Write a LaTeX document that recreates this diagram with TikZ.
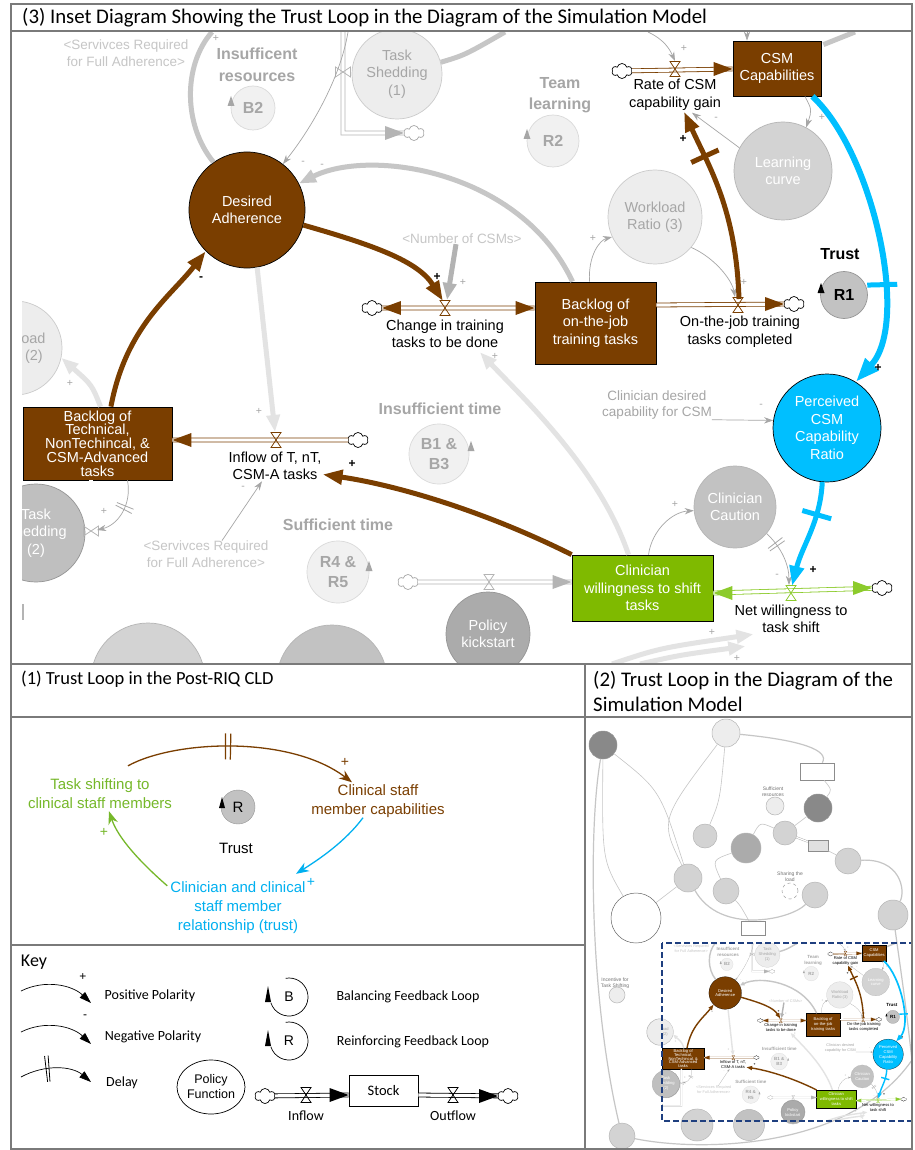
\documentclass[tikz,border=0pt]{standalone}
\usepackage{fontspec}
\setmainfont{Liberation Sans}
\newfontfamily\calib{Carlito}
\usetikzlibrary{arrows.meta,shapes.symbols,shapes.geometric,calc}

\definecolor{csmbrown}{HTML}{7A3E00}
\definecolor{trustcyan}{HTML}{00BFFF}
\definecolor{shiftgreen}{HTML}{7FBA00}
\definecolor{flowgreen}{HTML}{8CCB2C}
\definecolor{cldgreen}{HTML}{76B82A}
\definecolor{cldcyan}{HTML}{00B0F0}
\definecolor{fadegrey}{HTML}{A6A6A6}
\definecolor{palegrey}{HTML}{C6C6C6}
\definecolor{pipegrey}{HTML}{B4B4B4}
\definecolor{ghostgrey}{HTML}{E3E3E3}
\definecolor{ghostfill}{HTML}{EDEDED}
\definecolor{ghostline}{HTML}{CBCBCB}
\definecolor{midfill}{HTML}{D3D3D3}
\definecolor{midline}{HTML}{B5B5B5}
\definecolor{darkfill}{HTML}{ABABAB}
\definecolor{darkline}{HTML}{959595}
\definecolor{loopfill}{HTML}{F1F1F1}
\definecolor{loopline}{HTML}{DADADA}
\definecolor{rfill}{HTML}{C2C2C2}
\definecolor{framegrey}{HTML}{7A7A7A}
\definecolor{keynavy}{HTML}{1F3F7F}

\newcommand{\strokeu}{1}

% the inset, drawn once full size and once in the thumbnail
\newcommand{\insetbody}{%
\begin{scope}
\clip (22,32) rectangle (912,664);
% faded parts of the full model
\node[varc, fill=ghostfill, draw=ghostline, minimum size=94pt, text=fadegrey] (wl2) at (15,348) {Workload\\Ratio (2)};
\node[varc, fill=black!25, draw=darkline, minimum size=98pt, text=white] (ts2) at (36,533) {Task\\Shedding\\(2)};
\node[varc, fill=midfill, draw=midline, minimum size=114pt] (bot1) at (148,680) {};
\node[varc, fill=midfill!92!black, draw=midline, minimum size=110pt] (bot2) at (332,680) {};
\node[varc, fill=ghostfill, draw=ghostline, minimum size=90pt, text=fadegrey] (ts1) at (397,74) {Task\\Shedding\\(1)};
\node[varc, fill=midfill, draw=midline, minimum size=98pt, text=white] (learn) at (783,171) {Learning\\curve};
\node[varc, fill=ghostfill, draw=ghostline, minimum size=94pt, text=fadegrey] (wl3) at (655,217) {Workload\\Ratio (3)};
\node[varc, fill=midfill!92!black, draw=midline, minimum size=82pt, text=white] (caution) at (735,507) {Clinician\\Caution};
\node[varc, fill=darkfill, draw=darkline, minimum size=84pt, text=white] (policy) at (488,634) {Policy\\kickstart};

% loop names
\node[looplbl] (tInsRes) at (257,65) {Insufficent\\resources};
\node[loopc, minimum size=44pt] (b2) at (253,108) {B2};
\pic[fadegrey] at (231,104) {looparrow};
\node[looplbl] (tTeam) at (560,95) {Team\\learning};
\node[loopc, minimum size=52pt] (r2) at (553,141) {R2};
\pic[fadegrey] at (527,137) {looparrow};
\node[looplbl] (tInsTime) at (440,409) {Insufficient time};
\node[loopc, minimum size=60pt] (b13) at (439,454) {B1 \&\\B3};
\pic[fadegrey] at (471,449) {looparrow};
\node[looplbl] (tSufTime) at (338,525) {Sufficient time};
\node[loopc, minimum size=62pt] (r45) at (338,572) {R4 \&\\R5};
\pic[fadegrey] at (369,569) {looparrow};
\node[looplbl, text=black] (tTrust) at (840,254) {Trust};
\node[loopc, fill=rfill, draw=darkline, text=black, minimum size=47pt] (r1) at (844,295) {R1};
\pic[black] at (821,291) {looparrow};

% grey texts
\node[ghostlbl] (tSvc1) at (126,53) {<Servivces Required\\for Full Adherence>};
\node[ghostlbl] (tSvc2) at (206,554) {<Servivces Required\\for Full Adherence>};
\node[ghostlbl] (tNumCSM) at (462,239) {<Number of CSMs>};
\node[ghostlbl, text=fadegrey] (tDesCap) at (657,405) {Clinician desired\\capability for CSM};

% stocks and variables of the trust loop
\node[varc, fill=csmbrown, draw=black, minimum size=116pt, text=white] (desired) at (247,210) {Desired\\Adherence};
\node[stockbox, minimum width=149pt, minimum height=73pt, font=\fontsize{14.5}{13.7}\selectfont] (backT) at (97.5,443.5) {Backlog of\\Technical,\\NonTechincal, \&\\CSM-Advanced\\tasks};
\node[stockbox, minimum width=121pt, minimum height=82pt] (backJ) at (595.5,323) {Backlog of\\on-the-job\\training tasks};
\node[stockbox, minimum width=88pt, minimum height=55pt] (csm) at (777,68.5) {CSM\\Capabilities};
\node[varc, fill=trustcyan, draw=black, minimum size=108pt, text=white] (perc) at (827,428) {Perceived\\CSM\\Capability\\Ratio};
\node[stockbox, fill=shiftgreen, minimum width=141pt, minimum height=66pt] (clin) at (642.5,588) {Clinician\\willingness to shift\\tasks};

% flows
\coordinate (vChg) at (445,308);
\coordinate (vDone) at (738,305);
\coordinate (vRate) at (675,69);
\coordinate (vInf) at (276,440);
\coordinate (vNet) at (791,593);
\coordinate (vPol) at (489,582);
\coordinate (vTs1) at (343,72);
\coordinate (vLp) at (91,531);
\node[srccloud] (cChg) at (372,308) {};
\node[srccloud] (cDone) at (794,304) {};
\node[srccloud] (cRate) at (622,71) {};
\node[srccloud] (cInf) at (358,440) {};
\node[srccloud] (cNet) at (882,588) {};
\node[srccloud, draw=fadegrey] (cPol) at (408,582) {};
\node[srccloud, draw=fadegrey] (cTs1) at (414,133) {};
\node[flowlbl] (lChg) at (445,334) {Change in training\\tasks to be done};
\node[flowlbl] (lDone) at (740,332) {On-the-job training\\tasks completed};
\node[flowlbl] (lRate) at (675,95) {Rate of CSM\\capability gain};
\node[flowlbl] (lInf) at (275,466) {Inflow of T, nT,\\CSM-A tasks};
\node[flowlbl] (lNet) at (791,619) {Net willingness to\\task shift};

\draw[flowpipe, draw=csmbrown] (cChg) -- (vChg -| backJ.west);
\pic[csmbrown] at (vChg) {valve};
\pic[csmbrown] at (backJ.west |- vChg) {flowtip};
\pic[csmbrown, rotate=180] at (cChg.east) {flowtip};
\draw[flowpipe, draw=csmbrown] (backJ.east |- vDone) -- (cDone);
\pic[csmbrown] at (vDone) {valve};
\pic[csmbrown] at (cDone.west) {flowtip};
\draw[flowpipe, draw=csmbrown] (cRate) -- (csm.west |- vRate);
\pic[csmbrown] at (vRate) {valve};
\pic[csmbrown] at (csm.west |- vRate) {flowtip};
\draw[flowpipe, draw=csmbrown] (cInf) -- (backT.east |- vInf);
\pic[csmbrown] at (vInf) {valve};
\pic[csmbrown, rotate=180] at (backT.east |- vInf) {flowtip};
\draw[flowpipe, draw=flowgreen] (clin.east |- vNet) -- (cNet);
\pic[flowgreen] at (vNet) {valve};
\pic[flowgreen, rotate=180] at (clin.east |- vNet) {flowtip};
\pic[flowgreen] at (cNet.west) {flowtip};
\draw[flowpipe, draw=pipegrey] (cPol) -- (clin.west |- vPol);
\pic[pipegrey] at (vPol) {valve};
\pic[pipegrey] at (clin.west |- vPol) {flowtip};

\coordinate (ts1Top) at (343,32);
\coordinate (ts1Corner) at (343,133);
\draw[flowpipe, draw=pipegrey] (ts1Top) -- (ts1Corner) -- (cTs1);
\pic[pipegrey, rotate=90] at (vTs1) {valve};
\pic[pipegrey] at (cTs1.west) {flowtip};
\coordinate (lpTop) at (backT.south -| vLp);
\coordinate (lpCorner) at (91,612);
\coordinate (lpEnd) at (22,612);
\draw[flowpipe, draw=pipegrey] (lpTop) -- (lpCorner) -- (lpEnd);
\pic[pipegrey, rotate=90] at (vLp) {valve};
\draw[pipegrey, line width=1.5*\strokeu pt] ($(lpEnd)+(1,-8)$) -- ($(lpEnd)+(1,8)$);

% faded links
\coordinate (gTop1) at (348,32);
\coordinate (gTop2) at (648,32);
\coordinate (gTop3) at (747,32);
\coordinate (gTop4) at (212,32);
\coordinate (gTop5) at (505,32);
\coordinate (gTop6) at (855,32);
\coordinate (gBot1) at (612,664);
\coordinate (gBot2) at (640,664);
\draw[fatline, palegrey] (desired.125) .. controls (183,125) and (183,65) .. (gTop4);
\draw[fatline, palegrey] (ts1.15) .. controls (465,55) .. (gTop5);
\draw[fatline, palegrey] ($(csm.north east)+(2,4)$) -- (gTop6);
\draw[fatlink, palegrey] ($(backJ.north)+(-23,0)$) .. controls (520,170) and (370,148) .. (desired.27);
\draw[fatlink, fadegrey!85] ($(tNumCSM.south)+(-6,0)$) -- ($(vChg)+(2,-8)$);
\draw[fatlink, ghostgrey] (desired.-80) -- ($(vInf)+(-1,-8)$);
\draw[fatlink, ghostgrey] ($(clin.north)+(-14,0)$) .. controls (600,470) and (525,400) .. ($(lChg.south)+(35,3)$);
\draw[fatlink, ghostgrey] ($(backT.north)+(3,0)$) .. controls (92,385) .. (wl2.-12);
\draw[fatlink, ghostgrey] (gBot1) .. controls (660,648) .. ($(lNet.south west)+(20,0)$);
\draw[fatlink, ghostgrey] (gBot2) .. controls (680,655) .. ($(lNet.south west)+(12,12)$);
\draw[thinlink, fadegrey] (gTop1) .. controls (340,80) and (310,130) .. (desired.52);
\draw[thinlink, fadegrey] ($(backJ.north)+(-6,0)$) .. controls (588,255) and (600,240) .. (wl3.205);
\draw[thinlink, fadegrey] (wl3.-40) .. controls (715,258) and (732,280) .. ($(vDone)+(-3,-8)$);
\draw[thinlink, fadegrey] (learn.152) -- ($(lRate.south)+(17,1)$);
\draw[thinlink, fadegrey] ($(csm.south)+(28,0)$) .. controls (812,110) .. (learn.62);
\draw[thinlink, fadegrey] (gTop2) .. controls (665,40) and (670,50) .. ($(vRate)+(0,-8)$);
\draw[thinlink, fadegrey] (gTop3) -- (csm.north -| gTop3);
\draw[thinlink, fadegrey] ($(clin.north)+(6,0)$) .. controls (652,530) and (672,512) .. (caution.185);
\draw[thinlink, fadegrey] (caution.-40) .. controls (782,548) and (789,565) .. ($(vNet)+(-2,-8)$) node[gbar, fill=fadegrey, pos=0.21] (dCau1) {} node[gbar, fill=fadegrey, pos=0.27] (dCau2) {};
\draw[thinlink, fadegrey] (tDesCap.-15) -- (perc.172);
\draw[thinlink, fadegrey] ($(tSvc2.north)+(16,0)$) -- ($(lInf.south)+(-13,0)$);
\draw[thinlink, fadegrey] ($(backT.south)+(30,0)$) .. controls (132,505) and (118,525) .. ($(vLp)+(6,-1)$) node[gbar, fill=fadegrey, pos=0.38] (dLp1) {} node[gbar, fill=fadegrey, pos=0.44] (dLp2) {};

% the trust loop links
\draw[caulink, csmbrown] (desired.-15) .. controls +(70,20) and +(-25,-40) .. ($(vChg)+(-2,-7)$);
\draw[caulink, csmbrown] (backT.70) .. controls +(15,-80) and +(-35,45) .. (desired.225);
\draw[caulink, csmbrown] (clin.north west) .. controls +(-90,-45) and +(70,10) .. (lInf.-10);
\draw[caulink, csmbrown] ($(vDone)+(1,-6)$) .. controls +(-3,-90) and +(25,55) .. ($(lRate.south)+(9,0)$) node[delaybar, fill=csmbrown, pos=0.72] (dRate) {};
\draw[caulink, trustcyan, line width=6*\strokeu pt] ($(csm.south east)+(-9,0)$) .. controls +(60,55) and +(55,-60) .. (perc.58) node[delaybar, fill=trustcyan, pos=0.64] (dPerc) {};
\draw[caulink, trustcyan] (perc.265) .. controls +(-2,40) and +(10,-40) .. ($(vNet)+(1,-7)$) node[delaybar, fill=trustcyan, pos=0.3] (dNet) {};

% polarities
\node[sgn] (sDesChg) at (437,277) {+};
\node[sgn] (sBackDes) at (201,279) {-};
\node[sgn] (sClinInf) at (352,464) {+};
\node[sgn] (sDoneRate) at (683,139) {+};
\node[sgn] (sCsmPerc) at (878,368) {+};
\node[sgn] (sPercNet) at (813,570) {+};
\node[gsgn] (g1) at (216,38) {+};
\node[gsgn] (g2) at (303,163) {-};
\node[gsgn] (g3) at (322,166) {-};
\node[gsgn] (g4) at (463,282) {+};
\node[gsgn] (g5) at (593,238) {+};
\node[gsgn] (g6) at (744,282) {+};
\node[gsgn] (g7) at (716,119) {-};
\node[gsgn] (g8) at (822,117) {+};
\node[gsgn] (g9) at (684,48) {+};
\node[gsgn] (g10) at (495,356) {+};
\node[gsgn] (g11) at (761,406) {-};
\node[gsgn] (g12) at (675,504) {+};
\node[gsgn] (g13) at (777,576) {-};
\node[gsgn] (g14) at (712,632) {+};
\node[gsgn] (g15) at (737,658) {+};
\node[gsgn] (g16) at (259,411) {+};
\node[gsgn] (g17) at (243,488) {-};
\node[gsgn] (g18) at (70,383) {+};
\node[gsgn] (g19) at (104,511) {+};
\end{scope}}

\begin{document}
\begin{tikzpicture}[x=1pt,y=-1pt]
%define
\tikzstyle{varc} = [circle, inner sep=0pt, align=center, line width=0.7*\strokeu pt, font=\fontsize{14.5}{17.5}\selectfont]
\tikzstyle{stockbox} = [rectangle, draw=black, line width=0.8*\strokeu pt, fill=csmbrown, text=white, align=center, inner sep=0pt, font=\fontsize{14.5}{17.5}\selectfont]
\tikzstyle{flowlbl} = [align=center, inner sep=1pt, font=\fontsize{14.5}{17.5}\selectfont]
\tikzstyle{ghostlbl} = [align=center, inner sep=0pt, text=palegrey, font=\fontsize{13.5}{16.5}\selectfont]
\tikzstyle{looplbl} = [align=center, inner sep=0pt, text=fadegrey, font=\fontsize{16}{21.5}\selectfont\bfseries]
\tikzstyle{loopc} = [circle, inner sep=0pt, align=center, fill=loopfill, draw=loopline, line width=0.7*\strokeu pt, text=fadegrey, font=\fontsize{16}{20.5}\selectfont\bfseries]
\tikzstyle{sgn} = [inner sep=0pt, font=\fontsize{12}{12}\selectfont\bfseries]
\tikzstyle{gsgn} = [inner sep=0pt, text=fadegrey, font=\fontsize{10.5}{10.5}\selectfont]
\tikzstyle{srccloud} = [cloud, cloud puffs=6, cloud puff arc=150, aspect=1.3, draw=black, line width=0.7*\strokeu pt, minimum width=20pt, minimum height=15pt, inner sep=0pt]
\tikzstyle{flowpipe} = [line width=0.8*\strokeu pt, double=white, double distance=3.2*\strokeu pt]
\tikzstyle{caulink} = [line width=5*\strokeu pt, -{Triangle[length=0pt 4, width=0pt 2.8]}]
\tikzstyle{thinlink} = [line width=0.7*\strokeu pt, -{Stealth[length=0pt 13, width=0pt 9]}]
\tikzstyle{fatlink} = [line width=5*\strokeu pt, -{Triangle[length=0pt 3.4, width=0pt 2.6]}]
\tikzstyle{fatline} = [line width=5*\strokeu pt]
\tikzstyle{delaybar} = [sloped, rectangle, minimum width=5pt, minimum height=30pt, inner sep=0pt]
\tikzstyle{gbar} = [sloped, rectangle, minimum width=0.8pt, minimum height=18pt, inner sep=0pt]
\tikzstyle{cldtxt} = [align=center, inner sep=0pt, font=\fontsize{15}{19}\selectfont]
\tikzstyle{cldsgn} = [inner sep=0pt, font=\fontsize{14}{14}\selectfont]
\tikzstyle{cldlink} = [line width=1.3, -{Stealth[length=0pt 10, width=0pt 7.5]}]
\tikzstyle{keytxt} = [inner sep=0pt, font=\calib\fontsize{14}{17}\selectfont]
\tikzstyle{keysgn} = [inner sep=0pt, font=\fontsize{12}{12}\selectfont]
\tikzstyle{keylink} = [line width=0.7, -{Triangle[length=0pt 17, width=0pt 11]}]
\tikzstyle{titletxt} = [anchor=west, inner sep=0pt, align=left, font=\calib\fontsize{18.5}{25}\selectfont]
\tikzstyle{tinytxt} = [align=center, inner sep=0pt, text=black!55, font=\fontsize{5}{6}\selectfont]
\tikzstyle{miniline} = [draw=palegrey, line width=0.6]
\tikzstyle{minic} = [circle, inner sep=0pt, fill=midfill, draw=midline, line width=0.5]
\tikzstyle{frame} = [draw=framegrey, line width=1.4]
\tikzstyle{pics/valve} = [code={\draw[line width=0.8*\strokeu pt] (-5,-7.5) -- (5,-7.5) -- (-5,7.5) -- (5,7.5) -- cycle;}]
\tikzstyle{pics/flowtip} = [code={\fill (0,0) -- (-19,-7) -- (-19,7) -- cycle;}]
\tikzstyle{pics/looparrow} = [code={\fill (0,-8) -- (-3.5,2) -- (3.5,2) -- cycle;}]

\useasboundingbox[fill=white] (0,0) rectangle (914,1150);

% (3) the inset
\insetbody
\node[titletxt, font=\calib\fontsize{20.8}{25}\selectfont] (title3) at (22,18) {(3) Inset Diagram Showing the Trust Loop in the Diagram of the Simulation Model};

% (1) trust loop of the CLD
\node[titletxt] (title1) at (21,679) {(1) Trust Loop in the Post-RIQ CLD};
\node[cldtxt, text=cldgreen] (cShift) at (100,794) {Task shifting to\\clinical staff members};
\node[cldtxt, text=csmbrown] (cCap) at (378,801) {Clinical staff\\member capabilities};
\node[cldtxt, text=cldcyan] (cRel) at (238,908) {Clinician and clinical\\staff member\\relationship (trust)};
\node[circle, fill=rfill, draw=darkline, minimum size=34pt, inner sep=0pt, font=\fontsize{15}{15}\selectfont] (cLoop) at (238,807) {R};
\fill (222,797) -- (219,808) -- (225,808) -- cycle;
\node[cldtxt] (cTrust) at (236,848) {Trust};
\draw[cldlink, csmbrown] ($(cShift.north)+(28,-13)$) .. controls (175,740) and (290,735) .. ($(cCap.north)+(-26,-2)$) node[gbar, fill=csmbrown, minimum height=26pt, minimum width=1.2pt, pos=0.465] (cDel1) {} node[gbar, fill=csmbrown, minimum height=26pt, minimum width=1.2pt, pos=0.485] (cDel2) {};
\node[cldsgn, text=csmbrown] (cP1) at (345,762) {+};
\draw[cldlink, cldcyan] ($(cCap.south)+(-15,0)$) .. controls (345,842) and (318,860) .. ($(cRel.north)+(58,-8)$);
\node[cldsgn, text=cldcyan] (cP2) at (311,882) {+};
\draw[cldlink, cldgreen] ($(cRel.north west)+(-3,4)$) .. controls (140,862) and (118,838) .. ($(cShift.south)+(9,2)$);
\node[cldsgn, text=cldgreen] (cP3) at (104,832) {+};

% key
\node[keytxt, font=\calib\fontsize{18}{20}\selectfont] (kKey) at (34,962) {Key};
\coordinate (kA0) at (21,991);
\coordinate (kA1) at (91,1003);
\draw[keylink] (kA0) .. controls (45,979) and (72,985) .. (kA1);
\node[keysgn] (kPlus) at (83,977) {+};
\node[keytxt] (kPos) at (150,996) {Positive Polarity};
\coordinate (kB0) at (21,1032);
\coordinate (kB1) at (91,1044);
\draw[keylink] (kB0) .. controls (45,1020) and (72,1026) .. (kB1);
\node[keysgn] (kMinus) at (85,1017) {-};
\node[keytxt] (kNeg) at (153,1037) {Negative Polarity};
\coordinate (kC0) at (21,1077);
\coordinate (kC1) at (91,1082);
\draw[keylink] (kC0) .. controls (45,1064) and (72,1066) .. (kC1) node[gbar, fill=black, minimum height=26pt, minimum width=0.8pt, pos=0.34] (kD1) {} node[gbar, fill=black, minimum height=26pt, minimum width=0.8pt, pos=0.38] (kD2) {};
\node[keytxt] (kDelay) at (122,1083) {Delay};
\coordinate (kBc) at (289,997);
\draw[line width=0.7] ($(kBc)+(162:19)$) arc[start angle=162, end angle=-100, radius=19];
\fill (268,986) -- (265,1002) -- (271,1002) -- cycle;
\node[inner sep=0pt, font=\fontsize{14}{14}\selectfont] (kB) at (kBc) {B};
\node[keytxt] (kBal) at (408,997) {Balancing Feedback Loop};
\coordinate (kRc) at (289,1041);
\draw[line width=0.7] ($(kRc)+(162:19)$) arc[start angle=162, end angle=-100, radius=19];
\fill (268,1030) -- (265,1046) -- (271,1046) -- cycle;
\node[inner sep=0pt, font=\fontsize{14}{14}\selectfont] (kR) at (kRc) {R};
\node[keytxt] (kRein) at (413,1042) {Reinforcing Feedback Loop};
\node[ellipse, draw, line width=0.7, minimum width=68pt, minimum height=54pt, inner sep=0pt, align=center, font=\fontsize{12.5}{15}\selectfont] (kPolicy) at (211,1087) {Policy\\Function};
\node[srccloud] (kCl1) at (265,1096) {};
\coordinate (kV1) at (306,1095);
\node[rectangle, draw, line width=0.8, minimum width=69pt, minimum height=31pt, font=\calib\fontsize{14.5}{17}\selectfont] (kStock) at (383.5,1090.5) {Stock};
\coordinate (kV2) at (453,1095);
\node[srccloud] (kCl2) at (508,1096) {};
\draw[flowpipe, draw=black] (kCl1) -- (kV1 -| kStock.west);
\pic[black] at (kV1) {valve};
\pic[black] at (kV1 -| kStock.west) {flowtip};
\draw[flowpipe, draw=black] (kV2 -| kStock.east) -- (kCl2);
\pic[black] at (kV2) {valve};
\pic[black] at (kCl2.west) {flowtip};
\node[keytxt] (kIn) at (306,1116) {Inflow};
\node[keytxt] (kOut) at (453,1116) {Outflow};

% (2) thumbnail of the whole model
\node[titletxt, font=\calib\fontsize{20.8}{25}\selectfont] (title2) at (593,691.5) {(2) Trust Loop in the Diagram of the\\Simulation Model};
\node[minic, fill=darkfill!80!black, draw=darkline, minimum size=28pt] (mPol) at (603,745) {};
\node[minic, fill=ghostfill, minimum size=28pt] (mOver) at (726,733) {};
\node[minic, fill=darkfill!80!black, draw=darkline, minimum size=28pt] (mHire) at (818,808) {};
\node[minic, minimum size=24pt] (mHireCSM) at (785,833) {};
\node[minic, fill=darkfill, minimum size=30pt] (mMD) at (746,848) {};
\node[minic, minimum size=24pt] (mPayer) at (705,836) {};
\node[minic, minimum size=28pt] (mSvc) at (688,878) {};
\node[minic, fill=white, draw=black!60, minimum size=50pt] (mComp) at (636,918) {};
\node[minic, minimum size=26pt] (mWl1) at (726,891) {};
\node[minic, minimum size=26pt] (mMA) at (815,895) {};
\node[minic, minimum size=26pt] (mTurn) at (848,861) {};
\node[minic, minimum size=30pt] (mMAexp) at (893,915) {};
\node[minic, fill=white, draw=black!40, dashed, minimum size=16pt] (mR3) at (790,891) {};
\node[minic, fill=ghostfill, minimum size=18pt] (mR6) at (775,806) {};
\node[minic, fill=ghostfill, minimum size=16pt] (mB4) at (617,995) {};
\node[minic, minimum size=26pt] (mDent) at (622,1136) {};
\node[minic, fill=ghostfill, minimum size=26.4pt] (mWl2) at (660,1032) {};
\node[minic, fill=black!25, minimum size=27.5pt] (mTs2) at (666,1084) {};
\node[minic, minimum size=32pt] (mBot1) at (697,1125) {};
\node[minic, minimum size=31pt] (mBot2) at (749,1125) {};
\node[minic, fill=darkfill, minimum size=24pt] (mPolK) at (793,1112) {};
\node[rectangle, draw=black!45, fill=white, line width=0.5, minimum width=34pt, minimum height=17pt] (mAvg) at (817,771.5) {};
\node[rectangle, draw=black!45, fill=black!12, line width=0.5, minimum width=20pt, minimum height=11pt] (mNum) at (818,845.5) {};
\node[rectangle, draw=black!45, fill=white, line width=0.5, minimum width=24pt, minimum height=14pt] (mBack) at (753,928) {};
\node[tinytxt] (mSufRes) at (773,792) {Sufficient\\resources};
\node[tinytxt] (mShare) at (790,877) {Sharing the\\load};
\node[tinytxt] (mIncent) at (615,983) {Incentive for\\Task Shifting};
\coordinate (mEdge) at (912,1060);
\draw[miniline, line width=1.2] (mDent) .. controls (590,1000) and (588,830) .. (mPol);
\draw[miniline] (mSvc) .. controls (660,820) .. (mOver);
\draw[miniline] (mSvc) -- (mComp);
\draw[miniline] (mPayer) .. controls (720,800) .. (mOver);
\draw[miniline, line width=1.2] (mOver) .. controls (800,740) and (830,750) .. (mAvg);
\draw[miniline] (mAvg) .. controls (832,790) .. (mHire);
\draw[miniline] (mHire) -- (mHireCSM);
\draw[miniline] (mMD) .. controls (760,822) .. (mHireCSM);
\draw[miniline, line width=1.2] (mSvc) .. controls (720,935) and (790,920) .. (mMA);
\draw[miniline] (mNum) -- (mTurn);
\draw[miniline, line width=1.2] (mTurn) .. controls (900,858) and (906,890) .. (mMAexp);
\draw[miniline, line width=1.2] (mMAexp) .. controls (905,1000) .. (mEdge);
\draw[miniline, line width=1.2] (mDent) .. controls (700,1152) and (850,1150) .. (mEdge);
\draw[miniline] (mWl1) .. controls (712,860) .. (mMD);
\draw[miniline] (mComp) .. controls (602,860) .. (mPol);
\draw[miniline] (mBack) .. controls (740,905) .. (mWl1);
\draw[miniline] (mPol) .. controls (660,790) .. (mSvc);
\draw[flowpipe, draw=black!35, line width=0.4, double distance=1.2] (mHireCSM) -- (mNum);
\begin{scope}[shift={(655.82,934.01)}, scale=0.2809, transform shape, name prefix=mini-]
\renewcommand{\strokeu}{0.2809}
\insetbody
\end{scope}
\draw[keynavy, line width=2, dash pattern=on 6pt off 3pt] (662,943) rectangle (912,1121);

% frames
\draw[frame] (11,4) rectangle (912,1149);
\draw[frame] (11,31) -- (912,31);
\draw[frame] (11,664) -- (912,664);
\draw[frame] (11,717) -- (912,717);
\draw[frame] (11,945) -- (585,945);
\draw[frame] (585,664) -- (585,1149);
\end{tikzpicture}
\end{document}
